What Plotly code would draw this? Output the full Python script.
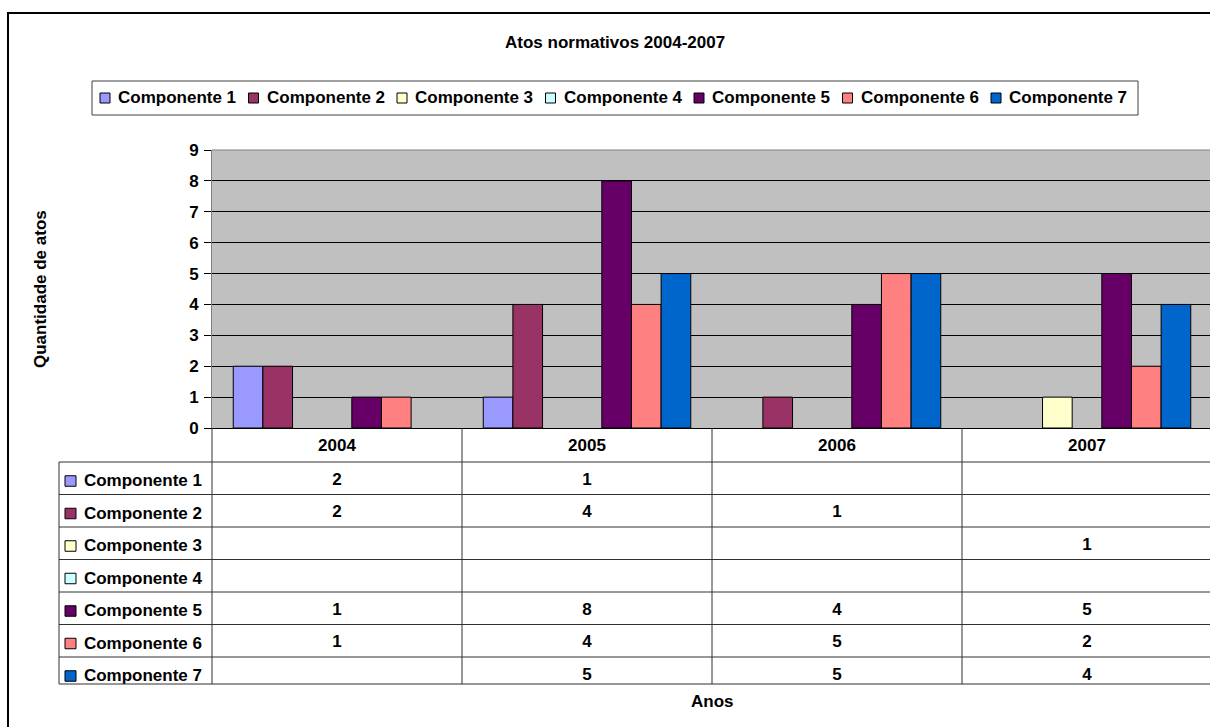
import plotly.graph_objects as go

# ---- data ----
anos = ["2004", "2005", "2006", "2007"]
componentes = ["Componente 1", "Componente 2", "Componente 3", "Componente 4",
               "Componente 5", "Componente 6", "Componente 7"]
comp1 = [2, 1, None, None]
comp2 = [2, 4, 1, None]
comp3 = [None, None, None, 1]
comp4 = [None, None, None, None]
comp5 = [1, 8, 4, 5]
comp6 = [1, 4, 5, 2]
comp7 = [None, 5, 5, 4]
series = [comp1, comp2, comp3, comp4, comp5, comp6, comp7]
y_ticks = list(range(0, 10))

cores = ["#9999FF", "#993366", "#FFFFCC", "#CCFFFF", "#660066", "#FF8080", "#0066CC"]

# ---- page geometry (pixels) ----
W, H = 1210, 727
FONT = "Liberation Sans, Arial, sans-serif"
FS = 17

PLOT_L, PLOT_R, PLOT_T, PLOT_B = 212, 1210, 150, 428
CAT_W = 250                      # pixels per year column
TAB_L = 59                       # left edge of the row-label column
HEAD_B = 462                     # bottom of the year header row
ROW_H = 32.5
N_ROWS = len(componentes)
TAB_B = HEAD_B + N_ROWS * ROW_H  # logical bottom of the table
TAB_CUT = 684                    # where the table border is drawn
TEXT_DY = 2                      # table text sits slightly low in its row


def px(x):
    return x / W


def py(y):
    return 1 - y / H


def bold(size=FS):
    return dict(family=FONT, size=size, color="black", weight="bold")


fig = go.Figure()

# grouped columns
for nome, vals, cor in zip(componentes, series, cores):
    fig.add_trace(go.Bar(
        x=anos, y=vals, name=nome,
        marker=dict(color=cor, line=dict(color="black", width=1)),
        showlegend=False, hoverinfo="skip",
    ))

# data table values: one text row per component, laid out on y2
for i, vals in enumerate(series):
    xs = [a for a, v in zip(anos, vals) if v is not None]
    ts = [str(v) for v in vals if v is not None]
    if not xs:
        continue
    fig.add_trace(go.Scatter(
        x=xs, y=[i] * len(xs), text=ts, mode="text", yaxis="y2",
        textposition="middle center", textfont=bold(),
        showlegend=False, hoverinfo="skip", cliponaxis=False,
    ))

shapes = []
annotations = []

# grey plot-area background
shapes.append(dict(type="rect", xref="x domain", yref="y domain", x0=0, x1=1, y0=0, y1=1,
                   fillcolor="#C0C0C0", line=dict(width=0), layer="below"))

# outer chart frame
shapes.append(dict(type="rect", xref="paper", yref="paper",
                   x0=px(8), x1=px(1225), y0=py(13), y1=py(740),
                   line=dict(color="black", width=2)))

# top edge of plot area
shapes.append(dict(type="line", xref="paper", yref="paper",
                   x0=px(PLOT_L), x1=1, y0=py(PLOT_T), y1=py(PLOT_T),
                   line=dict(color="#808080", width=1)))

# ---- legend ----
shapes.append(dict(type="rect", xref="paper", yref="paper",
                   x0=px(92), x1=px(1138), y0=py(81), y1=py(115),
                   line=dict(color="#404040", width=1), fillcolor="white"))
for i, (nome, cor) in enumerate(zip(componentes, cores)):
    x0 = 100 + i * 148.5
    shapes.append(dict(type="rect", xref="paper", yref="paper",
                       x0=px(x0), x1=px(x0 + 10), y0=py(93), y1=py(103),
                       line=dict(color="black", width=1), fillcolor=cor))
    annotations.append(dict(xref="paper", yref="paper", x=px(x0 + 16), y=py(97.5),
                            xanchor="left", yanchor="middle", showarrow=False,
                            text=nome, font=bold()))

# ---- data table grid ----
grid = dict(color="#303030", width=1)
row_lines = [HEAD_B + k * ROW_H for k in range(N_ROWS)] + [TAB_CUT]
for yl in row_lines:
    shapes.append(dict(type="line", xref="paper", yref="paper",
                       x0=px(TAB_L), x1=1, y0=py(yl), y1=py(yl), line=grid))
for k in range(len(anos)):
    xl = PLOT_L + k * CAT_W
    shapes.append(dict(type="line", xref="paper", yref="paper",
                       x0=px(xl), x1=px(xl), y0=py(PLOT_B), y1=py(TAB_CUT), line=grid))
shapes.append(dict(type="line", xref="paper", yref="paper",
                   x0=px(TAB_L), x1=px(TAB_L), y0=py(HEAD_B), y1=py(TAB_CUT), line=grid))

# colour keys in front of the row labels
for i, cor in enumerate(cores):
    yc = HEAD_B + (i + 0.5) * ROW_H + TEXT_DY
    shapes.append(dict(type="rect", xref="paper", yref="paper",
                       x0=px(65), x1=px(76), y0=py(yc - 4.5), y1=py(yc + 6),
                       line=dict(color="black", width=1), fillcolor=cor))

# titles
annotations.append(dict(xref="paper", yref="paper", x=px(615), y=py(42.5),
                        xanchor="center", yanchor="middle", showarrow=False,
                        text="Atos normativos 2004-2007", font=bold()))
annotations.append(dict(xref="paper", yref="paper", x=px(712), y=py(701),
                        xanchor="center", yanchor="middle", showarrow=False,
                        text="Anos", font=bold()))
annotations.append(dict(xref="paper", yref="paper", x=px(40), y=py(289),
                        xanchor="center", yanchor="middle", showarrow=False,
                        textangle=-90, text="Quantidade de atos", font=bold()))

fig.update_layout(
    template="none",
    width=W, height=H, autosize=False,
    margin=dict(l=0, r=0, t=0, b=0, pad=0),
    paper_bgcolor="white", plot_bgcolor="rgba(0,0,0,0)",
    font=dict(family=FONT, size=FS, color="black"),
    barmode="group", bargap=0.17, bargroupgap=0,
    showlegend=False,
    shapes=shapes, annotations=annotations,
    xaxis=dict(domain=[px(PLOT_L), 1], type="category", anchor="y",
               range=[-0.5, -0.5 + (PLOT_R - PLOT_L) / CAT_W],
               showticklabels=True, ticks="", tickfont=bold(), ticklabelstandoff=2,
               showgrid=False, zeroline=False, automargin=False,
               showline=True, linecolor="black", linewidth=1, fixedrange=True),
    yaxis=dict(domain=[py(PLOT_B), py(PLOT_T)], range=[0, 9], anchor="x",
               tickvals=y_ticks, ticks="outside", ticklen=7, tickcolor="black",
               tickfont=bold(), ticklabelstandoff=2, automargin=False,
               showgrid=True, gridcolor="black", gridwidth=1, zeroline=False,
               showline=True, linecolor="#808080", linewidth=1, fixedrange=True),
    yaxis2=dict(domain=[py(TAB_B + TEXT_DY), py(HEAD_B + TEXT_DY)],
                range=[N_ROWS - 0.5, -0.5], anchor="x",
                tickvals=list(range(N_ROWS)), ticktext=componentes,
                ticks="", tickfont=bold(), ticklabelstandoff=9, automargin=False,
                showgrid=False, zeroline=False, showline=False, fixedrange=True),
)

fig.write_html("out.html", config={"displayModeBar": False})
